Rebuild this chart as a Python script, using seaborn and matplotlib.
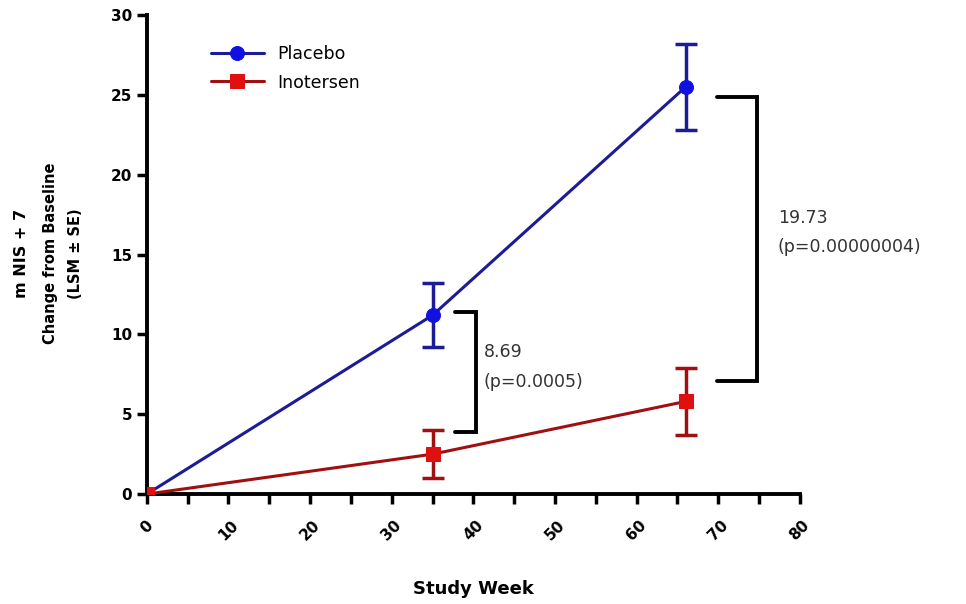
import pandas as pd
import numpy as np
import seaborn as sns
import matplotlib.pyplot as plt

weeks = [0, 35, 66]
placebo_mean = [0, 11.2, 25.5]
placebo_se = [0, 2.0, 2.7]
inotersen_mean = [0, 2.5, 5.8]
inotersen_se = [0, 1.5, 2.1]
groups = ['Placebo', 'Inotersen']

df = pd.DataFrame({
    'week': weeks * 2,
    'change': placebo_mean + inotersen_mean,
    'se': placebo_se + inotersen_se,
    'group': [groups[0]] * 3 + [groups[1]] * 3,
})

sns.set_style('white')
plt.rcParams['font.family'] = ['DejaVu Sans']
plt.rcParams['text.color'] = 'black'
plt.rcParams['xtick.color'] = 'black'
plt.rcParams['ytick.color'] = 'black'
plt.rcParams['axes.labelcolor'] = 'black'

fig = plt.figure(figsize=(9.66, 6.04), dpi=100)
ax = fig.add_axes([0.152, 0.182, 0.676, 0.793])

line_colors = {'Placebo': '#1c1c96', 'Inotersen': '#a01010'}
marker_colors = {'Placebo': '#1010e0', 'Inotersen': '#e01010'}
markers = {'Placebo': 'o', 'Inotersen': 's'}

for g in groups:
    sub = df[df['group'] == g]
    ax.errorbar(sub['week'], sub['change'], yerr=sub['se'], fmt='none',
                ecolor=line_colors[g], elinewidth=2.5, capsize=8, capthick=2.5, zorder=2)
    sns.lineplot(data=sub, x='week', y='change', ax=ax, color=line_colors[g],
                 marker=markers[g], markersize=10, markerfacecolor=marker_colors[g],
                 markeredgecolor=marker_colors[g], linewidth=2.2, label=g, zorder=3)

# significance brackets
def bracket(x0, x1, y0, y1):
    ax.plot([x0, x1, x1, x0], [y1, y1, y0, y0], color='black', lw=2.8,
            solid_joinstyle='miter', clip_on=False)

bracket(37.7, 40.3, 3.9, 11.4)
bracket(69.8, 74.7, 7.1, 24.9)

ax.text(41.3, 8.9, '8.69', fontsize=12.5, color='#333333', va='center')
ax.text(41.3, 7.0, '(p=0.0005)', fontsize=12.5, color='#333333', va='center')
ax.text(77.3, 17.3, '19.73', fontsize=12.5, color='#333333', va='center')
ax.text(77.3, 15.5, '(p=0.00000004)', fontsize=12.5, color='#333333', va='center')

ax.set_xlim(0, 80)
ax.set_ylim(0, 30)
ax.set_xticks(np.arange(0, 81, 10))
ax.set_xticks(np.arange(5, 80, 10), minor=True)
ax.set_yticks(np.arange(0, 31, 5))
ax.set_xticklabels([str(v) for v in range(0, 81, 10)], rotation=45, fontweight='bold', fontsize=11)
ax.set_yticklabels([str(v) for v in range(0, 31, 5)], fontweight='bold', fontsize=11)
ax.tick_params(axis='both', which='both', direction='out', length=7, width=2.5, color='black',
               bottom=True, left=True)
ax.tick_params(axis='x', pad=10)

for side in ['top', 'right']:
    ax.spines[side].set_visible(False)
for side in ['left', 'bottom']:
    ax.spines[side].set_linewidth(2.8)
    ax.spines[side].set_color('black')

ax.set_xlabel('Study Week', fontweight='bold', fontsize=13, labelpad=26)
ax.set_ylabel('')
fig.text(0.022, 0.58, 'm NIS + 7', rotation=90, fontweight='bold', fontsize=11.5, ha='center', va='center')
fig.text(0.052, 0.58, 'Change from Baseline', rotation=90, fontweight='bold', fontsize=10.5, ha='center', va='center')
fig.text(0.078, 0.58, '(LSM \u00b1 SE)', rotation=90, fontweight='bold', fontsize=10.5, ha='center', va='center')

ax.legend(loc='upper left', bbox_to_anchor=(0.075, 0.97), frameon=False, fontsize=12.5,
          handlelength=3, labelspacing=0.6)

fig.savefig('out.png', dpi=100)
